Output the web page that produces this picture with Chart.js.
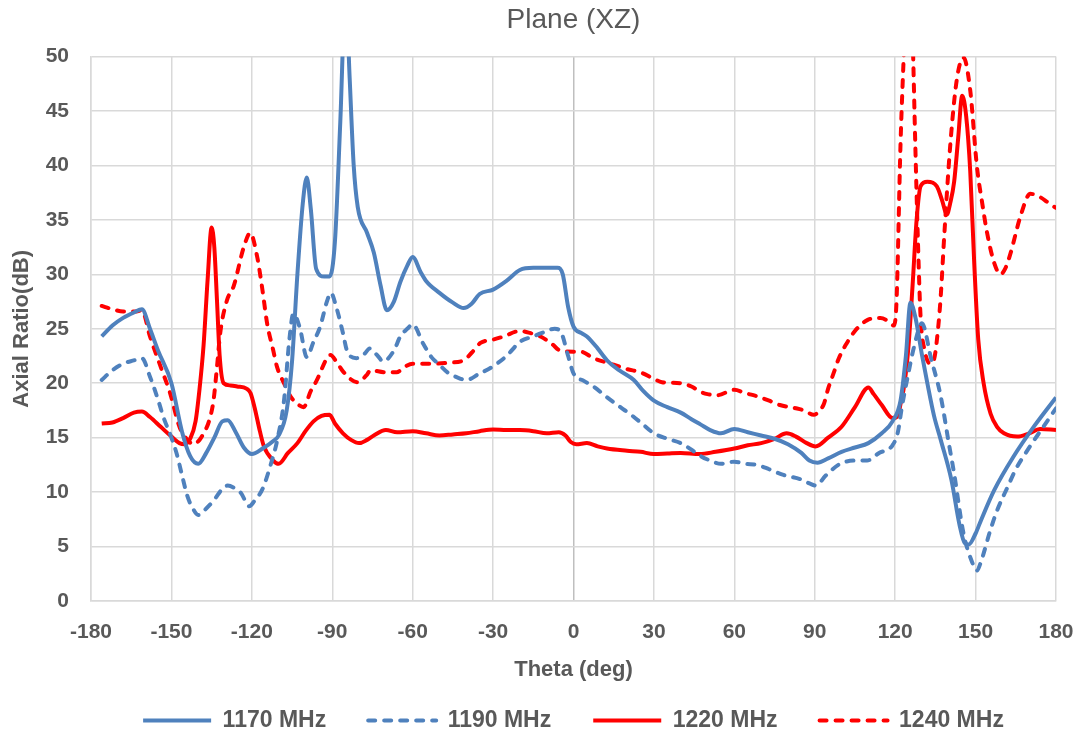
<!DOCTYPE html>
<html>
<head>
<meta charset="utf-8">
<title>Plane (XZ)</title>
<script src="https://cdn.jsdelivr.net/npm/chart.js@4/dist/chart.umd.min.js"></script>
<style>
  body { margin: 0; background: #fff; }
  canvas { display: block; }
</style>
</head>
<body>
<canvas id="arChart" width="1079" height="736"></canvas>
<script>
// theta (deg) / axial ratio (dB), one pair of arrays per frequency
const theta1170 = [-176, -172, -168, -164, -161, -158, -155, -150, -146, -143, -140, -137, -134, -131, -129, -126, -123, -120, -116, -112, -110, -107, -105, -103, -101, -99.5, -98, -96, -93, -91, -89, -87, -85, -83.5, -82, -80.5, -77, -74.5, -72, -69.6, -67, -64.6, -62, -60, -57, -55, -50, -45, -41, -38, -35, -30, -25, -20, -15, -10, -6, -4, -2, 0, 3, 5, 9, 12.5, 17, 22.5, 26, 30, 35, 40, 44, 47.5, 51, 55, 60, 65, 70, 75, 80, 85, 88, 91, 95, 100, 105, 110, 115, 119, 122, 124, 125.7, 127.5, 130, 132, 134.5, 137, 141, 144, 146, 147.5, 150, 152, 157, 164, 172, 180];
const ar1170 = [24.3, 25.3, 26.0, 26.5, 26.8, 25.0, 23.0, 20.0, 15.5, 13.3, 12.6, 13.6, 15.0, 16.5, 16.6, 15.5, 14.1, 13.5, 14.0, 14.7, 15.2, 17.5, 22.0, 30.0, 36.5, 38.9, 36.0, 30.5, 29.8, 29.8, 33, 44, 56, 48, 40, 36.2, 33.8, 32.0, 29, 26.7, 27.5, 29.3, 30.8, 31.6, 30.2, 29.4, 28.3, 27.4, 26.9, 27.3, 28.2, 28.6, 29.4, 30.4, 30.6, 30.6, 30.6, 30, 27, 25.2, 24.6, 24.3, 23.2, 22.1, 21.2, 20.3, 19.3, 18.4, 17.8, 17.3, 16.7, 16.2, 15.7, 15.4, 15.8, 15.5, 15.2, 14.9, 14.4, 13.6, 12.9, 12.7, 13.1, 13.7, 14.1, 14.5, 15.4, 16.5, 18.4, 22.5, 27.4, 26.1, 22.6, 20, 17.0, 14.8, 11.1, 7, 5.3, 5.2, 6.2, 7.4, 10.2, 13.2, 16.1, 18.7];

const theta1190 = [-176, -172, -168, -164, -161, -158, -155, -153, -150, -148, -146, -144, -142, -140, -137, -134, -131, -129, -126, -124, -121, -119, -116, -113, -110.5, -108, -106, -104.5, -102, -99.5, -97, -94.5, -92, -90.5, -88.5, -86, -84.5, -81, -78, -76, -73, -71, -67, -64.6, -62, -60, -56, -53, -50, -47, -43, -40, -35, -31, -25, -20, -15, -12, -7, -4.5, -2, 0, 4, 7.5, 12, 17.5, 22, 26, 30, 35, 40, 44, 47.5, 51, 55, 60, 64, 68.5, 73, 78, 84.5, 88, 90.5, 94, 99.5, 105, 109.5, 114, 119, 121, 122.5, 125, 127, 130, 131, 133, 137, 140, 142, 145.5, 148.5, 150.5, 152, 155.5, 158, 162, 165, 169.5, 175, 180];
const ar1190 = [20.3, 21.2, 21.8, 22.1, 22.3, 20.6, 18.5, 16.9, 15.0, 13.5, 11.5, 9.6, 8.5, 7.9, 8.5, 9.3, 10.3, 10.6, 10.3, 9.9, 8.7, 9.2, 10.3, 12.5, 14.8, 18.4, 24, 26.4, 25, 22.4, 23.8, 25.2, 27.5, 28.3, 27, 24.6, 23.0, 22.3, 22.7, 23.2, 22.5, 22.0, 23.0, 24.3, 25.0, 25.4, 23.6, 22.4, 21.7, 21.0, 20.5, 20.3, 20.9, 21.4, 22.5, 23.8, 24.3, 24.6, 25.0, 24.6, 22.5, 20.9, 20.2, 19.7, 18.8, 17.8, 17, 16.2, 15.4, 14.9, 14.5, 13.9, 13.3, 12.9, 12.6, 12.8, 12.6, 12.5, 12.1, 11.6, 11.2, 10.8, 10.6, 11.5, 12.6, 12.9, 12.9, 13.6, 14.3, 15.5, 17.8, 21, 23.3, 25.5, 25, 22.7, 18.8, 14.5, 11.7, 6.2, 3.7, 2.8, 3.6, 6.5, 8.3, 10.5, 12.1, 13.9, 15.9, 17.7];

const theta1220 = [-176, -172, -168, -164, -161, -158, -154, -150, -147, -145, -143, -141, -139.5, -138, -136.5, -135, -134, -133, -132, -130.5, -128, -125.5, -122, -120.5, -119, -117, -115.5, -112, -110, -106.5, -103, -100, -97, -94, -91, -89, -86, -83, -80, -77, -74.5, -70, -65.8, -60, -55, -50, -45, -40, -35, -30, -25, -20, -15, -10, -5.5, -3, -1, 1, 5, 9, 12.5, 20, 25, 30, 35, 40, 47, 53, 60, 65, 70, 75, 79.5, 83, 87, 90.3, 95, 100, 105, 110, 112, 115, 119, 121, 122, 123.5, 125, 126.5, 128, 129.5, 132, 135.5, 137.5, 139.3, 140.5, 142, 143.5, 145, 146.5, 148, 149.5, 151, 153, 155.6, 158, 160.6, 165.5, 170, 174, 180];
const ar1220 = [16.3, 16.4, 16.8, 17.3, 17.4, 16.9, 16.0, 15.1, 14.5, 14.4, 14.9, 16.5, 19.5, 23.5, 29.5, 34.3, 32.5, 27.6, 22.5, 20, 19.8, 19.7, 19.5, 19.1, 17.8, 15.6, 14.2, 12.9, 12.6, 13.6, 14.5, 15.6, 16.5, 17.0, 17.1, 16.3, 15.4, 14.8, 14.5, 14.8, 15.2, 15.7, 15.5, 15.6, 15.4, 15.2, 15.3, 15.4, 15.6, 15.75, 15.7, 15.7, 15.6, 15.4, 15.5, 15.2, 14.6, 14.4, 14.5, 14.2, 14.0, 13.8, 13.7, 13.5, 13.55, 13.6, 13.5, 13.7, 14.0, 14.3, 14.5, 14.9, 15.4, 15.1, 14.5, 14.2, 15.0, 16.0, 17.8, 19.6, 19.0, 18.0, 16.8, 17, 18.1, 20, 23.5, 29, 35, 38.1, 38.5, 38.1, 36.8, 35.5, 36.5, 38.5, 42.5, 46.4, 44.5, 39.5, 31, 24, 20, 17.2, 16.0, 15.4, 15.1, 15.4, 15.8, 15.7];

const theta1240 = [-176, -172, -168, -163, -161, -158, -154, -150.5, -147, -144, -141.7, -139.5, -138, -136, -134.3, -133, -131.8, -129.3, -126.8, -123, -120.6, -118, -116, -114.3, -112, -110.6, -108, -105.6, -103, -100.7, -98, -95.7, -92, -90.7, -88, -85.7, -80.7, -77, -75.8, -70, -66, -63, -60, -55, -51, -46, -41, -38, -34.7, -30, -26, -20, -16, -12.3, -8, -5, 0, 2.6, 7.5, 15, 20, 25, 30, 33, 40, 44, 47.5, 50, 53.6, 60, 64, 68.5, 73, 77, 83, 86, 89.6, 91.5, 93.4, 95, 97, 99, 102, 105, 109.6, 114.5, 118, 119.5, 120.5, 122, 123.5, 125, 126.5, 127.5, 128.5, 129.5, 131, 133, 134.5, 136, 137, 138.3, 140.5, 143, 145.5, 148, 150.5, 152.5, 154.3, 157, 159.3, 161, 163, 166.7, 170.4, 174, 177, 180];
const ar1240 = [27.1, 26.8, 26.6, 26.6, 26.7, 24.3, 21.5, 19.1, 16.0, 14.8, 14.4, 14.8, 15.4, 16.5, 18.4, 21.5, 24.6, 27.6, 28.9, 32.5, 33.8, 31.6, 28.5, 25.5, 23, 21.5, 20.0, 18.8, 18.1, 17.8, 19.3, 20.3, 22.3, 22.6, 21.8, 21.0, 20.1, 20.8, 21.2, 21.0, 21.0, 21.5, 21.8, 21.8, 21.8, 21.9, 22.1, 22.8, 23.7, 24.0, 24.3, 24.8, 24.6, 24.3, 23.6, 23.0, 22.9, 22.9, 22.3, 21.7, 21.3, 21.0, 20.4, 20.1, 20.0, 19.7, 19.2, 19.0, 18.9, 19.4, 19.1, 18.8, 18.4, 18.0, 17.7, 17.5, 17.1, 17.4, 18.1, 19.5, 20.9, 22.3, 23.7, 24.8, 25.8, 26.0, 25.6, 25.3, 27.5, 42, 52, 62, 52, 42, 33, 26, 23.0, 21.8, 22.2, 25, 28, 33.5, 41.7, 47.9, 49.9, 46.9, 39.9, 36.5, 33.8, 31.0, 30.0, 30.5, 31.9, 35.3, 37.4, 37.1, 36.6, 36.1];

const seriesNames = ['1170 MHz', '1190 MHz', '1220 MHz', '1240 MHz'];
const xTickMin = -180, xTickMax = 180, xTickStep = 30;
const yTickMin = 0, yTickMax = 50, yTickStep = 5;

const BLUE = '#4F81BD';
const RED = '#FF0000';
const TEXT = '#595959';
const GRID = '#D9D9D9';

Chart.defaults.font.family = '"Liberation Sans", Arial, sans-serif';
Chart.defaults.color = TEXT;

const toPoints = (xs, ys) => xs.map((x, i) => ({x: x, y: ys[i]}));

const makeSet = (label, xs, ys, color, dashed) => ({
  label: label,
  data: toPoints(xs, ys),
  borderColor: color,
  backgroundColor: color,
  borderWidth: 4,
  borderDash: dashed ? [7, 9] : [],
  borderCapStyle: dashed ? 'round' : 'butt',
  pointRadius: 0,
  pointHoverRadius: 0,
  fill: false,
  cubicInterpolationMode: 'monotone',
});

// legend items built from point style lose the dash, so copy it back from the dataset
const legendLabels = (chart) => {
  const items = Chart.defaults.plugins.legend.labels.generateLabels(chart);
  items.forEach((item) => {
    const ds = chart.data.datasets[item.datasetIndex];
    item.lineDash = ds.borderDash;
    item.lineWidth = ds.borderWidth;
    item.lineCap = ds.borderCapStyle;
    item.strokeStyle = ds.borderColor;
    item.fillStyle = ds.borderColor;
  });
  return items;
};

const config = {
  type: 'line',
  data: {
    datasets: [
      makeSet(seriesNames[0], theta1170, ar1170, BLUE, false),
      makeSet(seriesNames[1], theta1190, ar1190, BLUE, true),
      makeSet(seriesNames[2], theta1220, ar1220, RED, false),
      makeSet(seriesNames[3], theta1240, ar1240, RED, true),
    ]
  },
  options: {
    responsive: false,
    animation: false,
    events: [],
    layout: { padding: { left: 0, right: 23, top: 0, bottom: 0 } },
    plugins: {
      title: {
        display: true,
        fullSize: false,
        text: 'Plane (XZ)',
        color: TEXT,
        font: { size: 28, weight: 'normal' },
        padding: { top: 3, bottom: 20 }
      },
      legend: {
        position: 'bottom',
        fullSize: false,
        maxHeight: 69,
        labels: {
          usePointStyle: true,
          pointStyle: 'line',
          pointStyleWidth: 68,
          padding: 42,
          color: TEXT,
          font: { size: 23, weight: 'bold' },
          generateLabels: legendLabels
        }
      },
      tooltip: { enabled: false }
    },
    scales: {
      x: {
        type: 'linear',
        min: xTickMin,
        max: xTickMax,
        afterFit: (scale) => {
          scale.height = 66;
          scale.paddingLeft = 0;
          scale.paddingRight = 0;
        },
        ticks: {
          stepSize: xTickStep,
          padding: 19,
          color: TEXT,
          font: { size: 21, weight: 'bold' },
          maxRotation: 0
        },
        grid: {
          color: (ctx) => ctx.tick && ctx.tick.value === 0 ? '#BFBFBF' : GRID,
          lineWidth: 1.5,
          drawTicks: false
        },
        border: { color: GRID, width: 1.5 },
        title: {
          display: true,
          text: 'Theta (deg)',
          color: TEXT,
          font: { size: 22, weight: 'bold' },
          padding: { top: 0, bottom: -16 }
        }
      },
      y: {
        min: yTickMin,
        max: yTickMax,
        afterFit: (scale) => { scale.width = 91; },
        ticks: {
          stepSize: yTickStep,
          padding: 22,
          color: TEXT,
          font: { size: 21, weight: 'bold' }
        },
        grid: {
          color: GRID,
          lineWidth: 1.5,
          drawTicks: false
        },
        border: { color: GRID, width: 1.5 },
        title: {
          display: true,
          text: 'Axial Ratio(dB)',
          color: TEXT,
          font: { size: 22, weight: 'bold' },
          padding: { top: 9, bottom: 0 }
        }
      }
    }
  }
};

new Chart(document.getElementById('arChart'), config);
</script>
</body>
</html>
